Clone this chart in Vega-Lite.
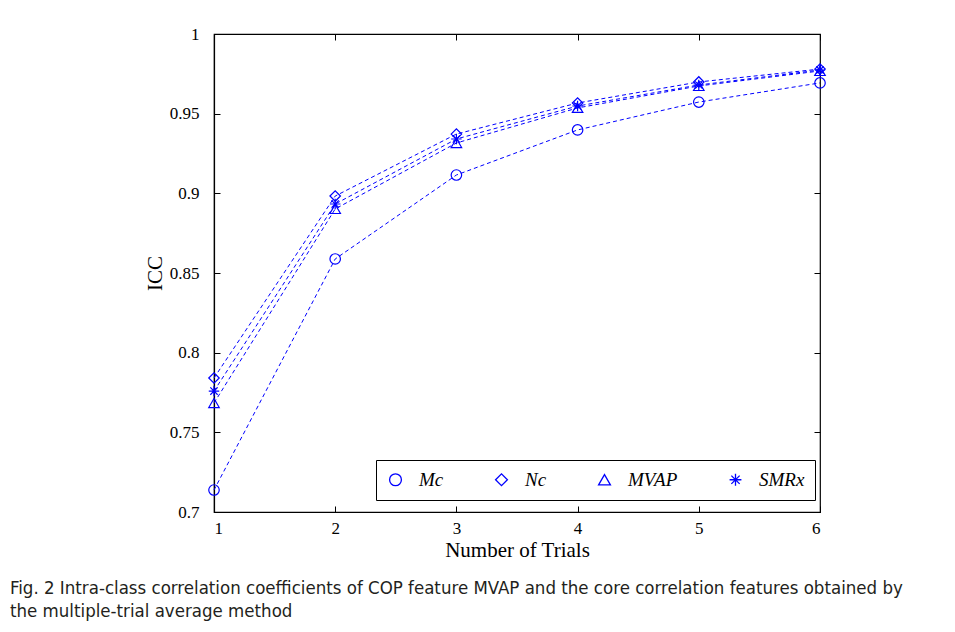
{
  "$schema": "https://vega.github.io/schema/vega-lite/v6.json",
  "autosize": {"type": "none"},
  "width": 606,
  "height": 478,
  "padding": {"left": 214, "top": 34, "right": 135, "bottom": 120},
  "background": "white",
  "title": {
    "text": ["Fig. 2  Intra-class correlation coefficients of COP feature MVAP and the core correlation features obtained by", "the multiple-trial average method"],
    "orient": "bottom",
    "anchor": "start",
    "frame": "group",
    "dx": -204,
    "offset": 19,
    "font": "DejaVu Sans Condensed",
    "fontSize": 18.5,
    "fontWeight": "normal",
    "color": "#231f20",
    "lineHeight": 23
  },
  "data": {
    "values": [
      {"trial": 1, "feature": "Mc", "icc": 0.7138},
      {"trial": 2, "feature": "Mc", "icc": 0.8588},
      {"trial": 3, "feature": "Mc", "icc": 0.9115},
      {"trial": 4, "feature": "Mc", "icc": 0.9398},
      {"trial": 5, "feature": "Mc", "icc": 0.9573},
      {"trial": 6, "feature": "Mc", "icc": 0.9693},
      {"trial": 1, "feature": "Nc", "icc": 0.7841},
      {"trial": 2, "feature": "Nc", "icc": 0.8983},
      {"trial": 3, "feature": "Nc", "icc": 0.9372},
      {"trial": 4, "feature": "Nc", "icc": 0.9567},
      {"trial": 5, "feature": "Nc", "icc": 0.9699},
      {"trial": 6, "feature": "Nc", "icc": 0.978},
      {"trial": 1, "feature": "MVAP", "icc": 0.7684},
      {"trial": 2, "feature": "MVAP", "icc": 0.8902},
      {"trial": 3, "feature": "MVAP", "icc": 0.9316},
      {"trial": 4, "feature": "MVAP", "icc": 0.9536},
      {"trial": 5, "feature": "MVAP", "icc": 0.9674},
      {"trial": 6, "feature": "MVAP", "icc": 0.9768},
      {"trial": 1, "feature": "SMRx", "icc": 0.7759},
      {"trial": 2, "feature": "SMRx", "icc": 0.8933},
      {"trial": 3, "feature": "SMRx", "icc": 0.9341},
      {"trial": 4, "feature": "SMRx", "icc": 0.9548},
      {"trial": 5, "feature": "SMRx", "icc": 0.968},
      {"trial": 6, "feature": "SMRx", "icc": 0.9774}
    ]
  },
  "config": {
    "view": {"stroke": "black", "strokeWidth": 1.2},
    "axis": {
      "domainColor": "black",
      "tickColor": "black",
      "tickSize": -6,
      "grid": false,
      "labelFont": "Liberation Serif",
      "labelFontSize": 17,
      "labelColor": "black",
      "titleFont": "Liberation Serif",
      "titleFontSize": 21,
      "titleFontWeight": "normal",
      "titleColor": "black"
    }
  },
  "layer": [
    {
      "mark": {"type": "line", "color": "#0000ff", "strokeWidth": 1, "strokeDash": [4, 3]},
      "encoding": {
        "x": {"field": "trial", "type": "quantitative", "scale": {"domain": [1, 6], "nice": false},
              "axis": {"orient": "bottom", "values": [1, 2, 3, 4, 5, 6], "title": "Number of Trials", "labelPadding": 14, "titlePadding": 3, "domainWidth": 1.2}},
        "y": {"field": "icc", "type": "quantitative", "scale": {"domain": [0.7, 1], "nice": false, "zero": false},
              "axis": {"orient": "left", "values": [0.7, 0.75, 0.8, 0.85, 0.9, 0.95, 1], "format": ".2~f", "title": "ICC", "labelPadding": 21, "titlePadding": 4, "domainWidth": 1.2}},
        "detail": {"field": "feature"}
      }
    },
    {
      "mark": {"type": "point", "filled": false, "color": "#0000ff", "strokeWidth": 1.2, "size": 110, "opacity": 1},
      "encoding": {
        "x": {"field": "trial", "type": "quantitative", "axis": null},
        "y": {"field": "icc", "type": "quantitative", "axis": null},
        "shape": {
          "field": "feature", "type": "nominal",
          "sort": ["Mc", "Nc", "MVAP", "SMRx"],
          "scale": {"domain": ["Mc", "Nc", "MVAP", "SMRx"], "range": ["circle", "diamond", "triangle-up", "M-1,0L1,0M0,-1L0,1M-0.7,-0.7L0.7,0.7M-0.7,0.7L0.7,-0.7"]},
          "legend": {
            "title": null,
            "orient": "none",
            "legendX": 162,
            "legendY": 426,
            "direction": "horizontal",
            "columns": 4,
            "strokeColor": "black",
            "fillColor": "white",
            "padding": 10,
            "columnPadding": 48,
            "labelFont": "Liberation Serif",
            "labelFontStyle": "italic",
            "labelFontSize": 19,
            "labelColor": "black",
            "symbolSize": 140,
            "symbolStrokeColor": "#0000ff",
            "symbolStrokeWidth": 1.3,
            "symbolFillColor": "transparent",
            "labelOffset": 14
          }
        }
      }
    },
    {
      "mark": {"type": "point", "opacity": 0},
      "encoding": {
        "x": {"field": "trial", "type": "quantitative", "axis": {"orient": "top", "values": [1, 2, 3, 4, 5, 6], "labels": false, "title": null, "domain": false}},
        "y": {"field": "icc", "type": "quantitative", "axis": {"orient": "right", "values": [0.7, 0.75, 0.8, 0.85, 0.9, 0.95, 1], "labels": false, "title": null, "domain": false}}
      }
    }
  ],
  "resolve": {"axis": {"x": "independent", "y": "independent"}}
}
